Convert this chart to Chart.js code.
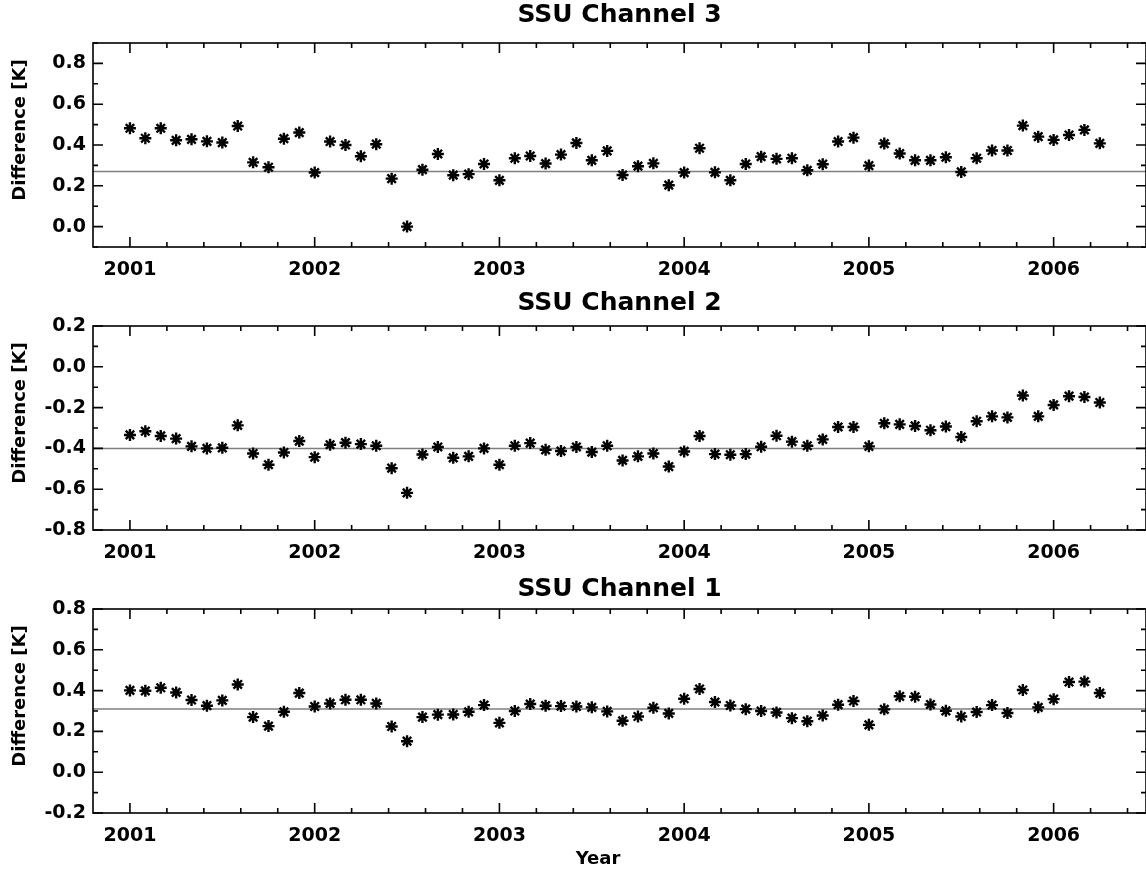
<!DOCTYPE html>
<html>
<head>
<meta charset="utf-8">
<script src="https://cdn.jsdelivr.net/npm/chart.js@4"></script>
<style>
  body { margin: 0; background: #fff; }
  #wrap { position: relative; width: 1146px; height: 874px; }
  canvas { position: absolute; left: 0; }
</style>
</head>
<body>
<div id="wrap">
  <canvas id="c3" width="1146" height="283" style="top:0"></canvas>
  <canvas id="c2" width="1146" height="283" style="top:283px"></canvas>
  <canvas id="c1" width="1146" height="308" style="top:566px"></canvas>
</div>
<script>
// monthly samples
const months = [
  "2001-01","2001-02","2001-03","2001-04","2001-05","2001-06","2001-07","2001-08","2001-09","2001-10","2001-11","2001-12",
  "2002-01","2002-02","2002-03","2002-04","2002-05","2002-06","2002-07","2002-08","2002-09","2002-10","2002-11","2002-12",
  "2003-01","2003-02","2003-03","2003-04","2003-05","2003-06","2003-07","2003-08","2003-09","2003-10","2003-11","2003-12",
  "2004-01","2004-02","2004-03","2004-04","2004-05","2004-06","2004-07","2004-08","2004-09","2004-10","2004-11","2004-12",
  "2005-01","2005-02","2005-03","2005-04","2005-05","2005-06","2005-07","2005-08","2005-09","2005-10","2005-11","2005-12",
  "2006-01","2006-02","2006-03","2006-04"
];

const ch3 = [
  0.482,0.433,0.482,0.423,0.428,0.418,0.412,0.493,0.315,0.291,0.431,0.461,
  0.265,0.417,0.400,0.345,0.404,0.235,0.000,0.279,0.356,0.252,0.257,0.307,
  0.227,0.335,0.346,0.309,0.353,0.410,0.325,0.371,0.253,0.296,0.310,0.203,
  0.265,0.384,0.266,0.227,0.307,0.343,0.332,0.335,0.276,0.306,0.417,0.436,
  0.299,0.407,0.358,0.325,0.325,0.340,0.268,0.335,0.373,0.373,0.495,0.441,
  0.425,0.449,0.474,0.408
];
const ch2 = [
  -0.334,-0.316,-0.339,-0.352,-0.390,-0.400,-0.397,-0.287,-0.425,-0.480,-0.420,-0.364,
  -0.443,-0.382,-0.372,-0.379,-0.387,-0.497,-0.618,-0.430,-0.393,-0.446,-0.439,-0.400,
  -0.480,-0.387,-0.374,-0.407,-0.413,-0.393,-0.418,-0.387,-0.459,-0.439,-0.425,-0.489,
  -0.415,-0.339,-0.428,-0.431,-0.428,-0.392,-0.338,-0.367,-0.387,-0.356,-0.295,-0.295,
  -0.390,-0.277,-0.282,-0.290,-0.311,-0.293,-0.344,-0.267,-0.243,-0.248,-0.141,-0.243,
  -0.187,-0.144,-0.148,-0.175
];
const ch1 = [
  0.401,0.399,0.414,0.391,0.354,0.326,0.352,0.430,0.270,0.226,0.296,0.388,
  0.322,0.337,0.355,0.355,0.337,0.224,0.152,0.270,0.282,0.283,0.296,0.329,
  0.242,0.300,0.334,0.326,0.324,0.322,0.318,0.298,0.252,0.273,0.316,0.288,
  0.360,0.408,0.344,0.327,0.309,0.300,0.293,0.265,0.250,0.278,0.331,0.349,
  0.232,0.308,0.372,0.370,0.332,0.301,0.273,0.295,0.329,0.290,0.403,0.318,
  0.358,0.442,0.444,0.388
];

// mean difference (grey reference line)
const means = [0.27, -0.40, 0.31];

const titles = ["SSU Channel 3", "SSU Channel 2", "SSU Channel 1"];
const xTicks = [2001, 2002, 2003, 2004, 2005, 2006];
const xRange = [2000.8, 2006.5];
const yTicks3 = [0.0, 0.2, 0.4, 0.6, 0.8];
const yTicks2 = [-0.8, -0.6, -0.4, -0.2, 0.0, 0.2];
const yTicks1 = [-0.2, 0.0, 0.2, 0.4, 0.6, 0.8];
const yRange3 = [-0.1, 0.9];
const yRange2 = [-0.8, 0.2];
const yRange1 = [-0.2, 0.8];

const FONT = "DejaVu Sans";

function toYear(m) {
  const [y, mo] = m.split("-").map(Number);
  return y + (mo - 1) / 12;
}

// box, inward ticks, title and axis titles like the IDL plot
const framePlugin = {
  id: "frame",
  afterDatasetsDraw(chart, args, opts) {
    const { ctx, chartArea: a, scales: { x, y } } = chart;
    ctx.save();
    ctx.strokeStyle = "#000";
    ctx.lineWidth = 1.6;
    ctx.strokeRect(a.left, a.top, a.right - a.left, a.bottom - a.top);
    ctx.beginPath();
    for (let k = 0; k <= 30; k++) {
      const t = xTicks[0] + k * 0.2;
      if (t > xRange[1]) break;
      const px = x.getPixelForValue(t);
      const len = Math.abs(t - Math.round(t)) < 1e-6 ? 10 : 5;
      ctx.moveTo(px, a.top); ctx.lineTo(px, a.top + len);
      ctx.moveTo(px, a.bottom); ctx.lineTo(px, a.bottom - len);
    }
    const yr = opts.range;
    for (let k = 0; k <= 10; k++) {
      const v = yr[0] + k * 0.1;
      const py = y.getPixelForValue(v);
      const major = opts.ticks.some(t => Math.abs(t - v) < 1e-6);
      const len = major ? 10 : 5;
      ctx.moveTo(a.left, py); ctx.lineTo(a.left + len, py);
      ctx.moveTo(a.right, py); ctx.lineTo(a.right - len, py);
    }
    ctx.stroke();

    ctx.fillStyle = "#000";
    ctx.textAlign = "center";
    ctx.textBaseline = "middle";
    ctx.font = "bold 25px '" + FONT + "'";
    ctx.fillText(opts.title, (a.left + a.right) / 2, a.top - opts.titleGap);

    ctx.font = "bold 18px '" + FONT + "'";
    ctx.save();
    ctx.translate(20, (a.top + a.bottom) / 2 - 15);
    ctx.rotate(-Math.PI / 2);
    ctx.fillText("Difference [K]", 0, 0);
    ctx.restore();
    if (opts.xTitle) {
      ctx.fillText(opts.xTitle, 598, a.bottom + 46);
    }
    ctx.restore();
  }
};

function makeChart(id, title, values, mean, yTicks, yRange, xTitle, bottomH, titleGap) {
  const pts = months.map((m, i) => ({ x: toYear(m), y: values[i] }));
  return new Chart(document.getElementById(id), {
    type: "scatter",
    data: {
      datasets: [
        {
          data: pts,
          pointStyle: "star",
          pointRadius: 6,
          borderColor: "#000",
          backgroundColor: "#000",
          borderWidth: 2.4,
          order: 1
        },
        {
          type: "line",
          data: [{ x: xRange[0], y: mean }, { x: xRange[1], y: mean }],
          borderColor: "#7f7f7f",
          borderWidth: 1.5,
          pointRadius: 0,
          order: 2
        }
      ]
    },
    options: {
      responsive: false,
      animation: false,
      layout: { autoPadding: false, padding: { top: 43, left: 0, right: 0, bottom: 0 } },
      plugins: {
        legend: { display: false },
        tooltip: { enabled: false },
        title: { display: false },
        frame: { range: yRange, ticks: yTicks, xTitle: xTitle, title: title, titleGap: titleGap }
      },
      scales: {
        x: {
          type: "linear",
          min: xRange[0],
          max: xRange[1],
          grid: { display: false, drawTicks: false, tickLength: 0 },
          border: { display: false },
          afterBuildTicks: s => { s.ticks = xTicks.map(v => ({ value: v })); },
          afterFit: s => { s.height = bottomH; },
          ticks: {
            color: "#000",
            padding: 12,
            maxRotation: 0,
            autoSkip: false,
            font: { family: FONT, size: 19, weight: "bold" },
            callback: v => String(v)
          }
        },
        y: {
          min: yRange[0],
          max: yRange[1],
          grid: { display: false, drawTicks: false, tickLength: 0 },
          border: { display: false },
          afterBuildTicks: s => { s.ticks = yTicks.map(v => ({ value: v })); },
          afterFit: s => { s.width = 93; },
          ticks: {
            color: "#000",
            padding: 7,
            font: { family: FONT, size: 19, weight: "bold" },
            callback: v => Number(v).toFixed(1)
          }
        }
      }
    },
    plugins: [framePlugin]
  });
}

makeChart("c3", titles[0], ch3, means[0], yTicks3, yRange3, null, 36, 28);
makeChart("c2", titles[1], ch2, means[1], yTicks2, yRange2, null, 36, 23);
makeChart("c1", titles[2], ch1, means[2], yTicks1, yRange1, "Year", 61, 20);
</script>
</body>
</html>
